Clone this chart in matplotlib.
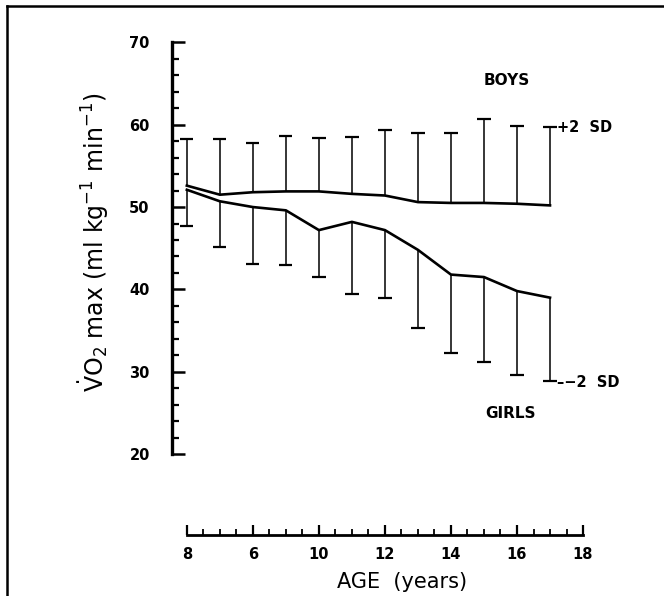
import numpy as np
import matplotlib
matplotlib.use("Agg")
from matplotlib import pyplot as plt
from matplotlib.lines import Line2D
from matplotlib.ticker import MultipleLocator

# ages and VO2 max values
ages = np.arange(6, 18)
boys_mean = [52.6, 51.5, 51.8, 51.9, 51.9, 51.6, 51.4, 50.6, 50.5, 50.5, 50.4, 50.2]
boys_plus2sd = [58.3, 58.3, 57.8, 58.6, 58.4, 58.5, 59.4, 59.0, 59.0, 60.7, 59.9, 59.7]
girls_mean = [52.1, 50.7, 50.0, 49.6, 47.2, 48.2, 47.2, 44.8, 41.8, 41.5, 39.8, 39.0]
girls_minus2sd = [47.7, 45.2, 43.1, 43.0, 41.5, 39.4, 38.9, 35.3, 32.3, 31.2, 29.6, 28.9]

x_ticks = [6, 8, 10, 12, 14, 16, 18]
x_ticklabels = ["8", "6", "10", "12", "14", "16", "18"]  # as printed in the scan
y_ticks = [20, 30, 40, 50, 60, 70]

fig = plt.figure(figsize=(6.64, 5.96), dpi=100)
ax = fig.add_axes([0.259, 0.238, 0.629, 0.691])

# mean lines
ax.plot(ages, boys_mean, color="black", lw=1.9, solid_joinstyle="round")
ax.plot(ages, girls_mean, color="black", lw=1.9, solid_joinstyle="round")

# one-sided error bars (+2 SD for boys, -2 SD for girls)
ax.vlines(ages, boys_mean, boys_plus2sd, color="black", lw=1.1)
ax.hlines(boys_plus2sd, ages - 0.2, ages + 0.2, color="black", lw=1.6)
ax.vlines(ages, girls_minus2sd, girls_mean, color="black", lw=1.1)
ax.hlines(girls_minus2sd, ages - 0.2, ages + 0.2, color="black", lw=1.6)

ax.set_xlim(5.55, 18.2)
ax.set_ylim(20, 70)

# spines: thick left axis, detached age axis below
for s in ["top", "right"]:
    ax.spines[s].set_visible(False)
ax.spines["left"].set_linewidth(2.4)
ax.spines["left"].set_bounds(20, 70)
ax.spines["bottom"].set_linewidth(2.0)
ax.spines["bottom"].set_bounds(6, 18)
ax.spines["bottom"].set_position(("outward", 58))

ax.set_yticks(y_ticks)
ax.yaxis.set_minor_locator(MultipleLocator(2))
ax.set_xticks(x_ticks)
ax.set_xticklabels(x_ticklabels)
ax.xaxis.set_minor_locator(MultipleLocator(0.5))

ax.tick_params(axis="y", which="major", direction="in", length=9, width=1.8,
               pad=16, labelsize=10.5)
ax.tick_params(axis="y", which="minor", direction="in", length=5, width=1.6)
ax.tick_params(axis="x", which="major", direction="in", length=7, width=1.6,
               pad=9, labelsize=10.5)
ax.tick_params(axis="x", which="minor", direction="in", length=4, width=1.3)
for lab in ax.get_xticklabels() + ax.get_yticklabels():
    lab.set_fontweight("bold")

ax.set_ylabel(r"$\dot{\rm V}{\rm O}_2$ max (ml kg$^{-1}$ min$^{-1}$)", fontsize=17)
ax.yaxis.set_label_coords(-0.145, 0.515)
ax.set_xlabel("AGE  (years)", fontsize=15)
ax.xaxis.set_label_coords(0.55, -0.285)

# annotations
ax.text(15.7, 65.4, "BOYS", fontsize=11, fontweight="bold", ha="center", va="center")
ax.text(15.8, 24.9, "GIRLS", fontsize=11, fontweight="bold", ha="center", va="center")
ax.text(ages[-1] + 0.22, boys_plus2sd[-1], "+2  SD", fontsize=10.5,
        fontweight="bold", ha="left", va="center")
ax.text(ages[-1] + 0.2, girls_minus2sd[-1] - 0.2, "\u2013\u22122  SD", fontsize=10.5,
        fontweight="bold", ha="left", va="center")

# frame lines of the scanned page (left and top)
fig.add_artist(Line2D([0.0105, 0.0105], [0.0, 0.99], transform=fig.transFigure,
                      color="black", lw=1.8))
fig.add_artist(Line2D([0.0105, 1.0], [0.99, 0.99], transform=fig.transFigure,
                      color="black", lw=1.8))

fig.savefig("out.png", dpi=100)
